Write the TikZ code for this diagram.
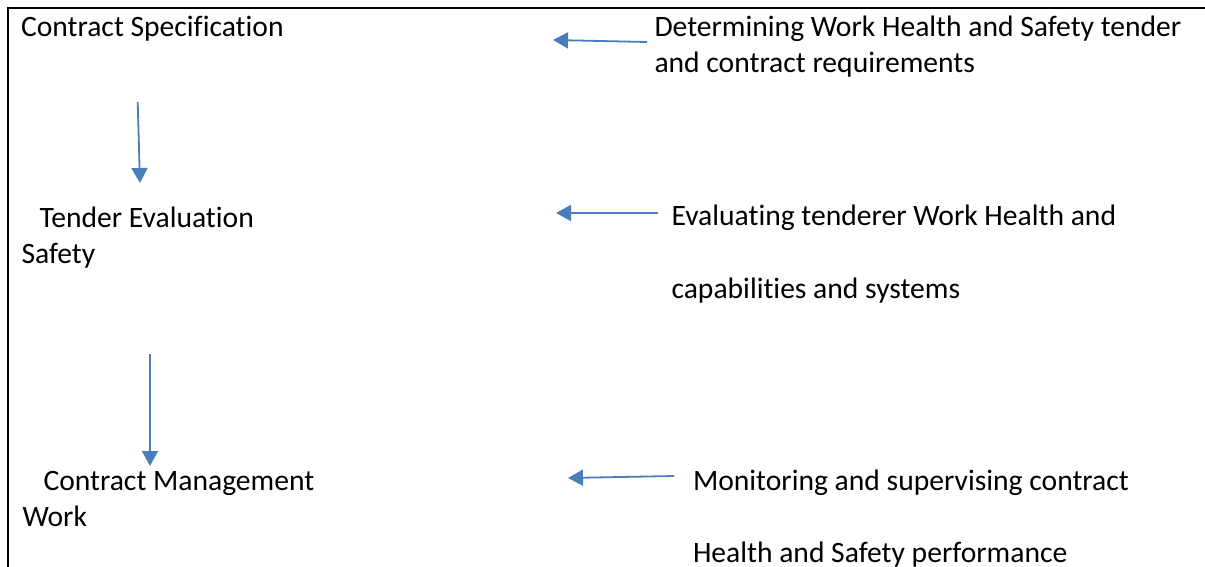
\documentclass[tikz,border=0pt]{standalone}
\usepackage{fontspec}
\setmainfont{Carlito}[Ligatures={NoCommon}, RawFeature={-liga}]
\usetikzlibrary{arrows.meta}
\definecolor{arrowblue}{HTML}{4A7EBB}
\tikzset{
  lbl/.style={anchor=base west, inner sep=0pt, outer sep=0pt, align=left,
    font=\fontsize{29.6}{36}\selectfont},
  flowarrow/.style={draw=arrowblue, line width=1.8pt,
    -{Triangle[length=15pt,width=16pt]}, arrowblue},
  frameline/.style={draw=black, line width=2pt}
}
\begin{document}
\begin{tikzpicture}[x=1pt,y=-1pt]
\useasboundingbox (0,0) rectangle (1205,567);
% frame
\coordinate (fTR) at (1205,8);
\coordinate (fTL) at (8,8);
\coordinate (fBL) at (8,567);
\draw[frameline] (fTR) -- (fTL) -- (fBL);
% texts (anchored at the baseline of the last line)
\node[lbl] (spec) at (21,36.5) {Contract Specification};
\node[lbl] (det) at (654.5,72.7) {Determining Work Health and Safety tender\\and contract requirements};
\node[lbl] (tend) at (21.5,263) {\hspace*{18pt}Tender Evaluation\\Safety};
\node[lbl] (eval) at (671.5,298) {Evaluating tenderer Work Health and\\[37pt]capabilities and systems};
\node[lbl] (mgmt) at (22.5,526) {\hspace*{21pt}Contract Management\\Work};
\node[lbl] (mon) at (693,562) {Monitoring and supervising contract\\[36pt]Health and Safety performance};
% arrow end points
\coordinate (a1s) at (647,42);  \coordinate (a1e) at (553,40);
\coordinate (a2s) at (137.7,102); \coordinate (a2e) at (140,183);
\coordinate (a3s) at (658,213); \coordinate (a3e) at (556,213);
\coordinate (a4s) at (150,354); \coordinate (a4e) at (150,466);
\coordinate (a5s) at (674,476); \coordinate (a5e) at (568,478);
\draw[flowarrow] (a1s) -- (a1e);
\draw[flowarrow] (a2s) -- (a2e);
\draw[flowarrow] (a3s) -- (a3e);
\draw[flowarrow] (a4s) -- (a4e);
\draw[flowarrow] (a5s) -- (a5e);
\end{tikzpicture}
\end{document}
